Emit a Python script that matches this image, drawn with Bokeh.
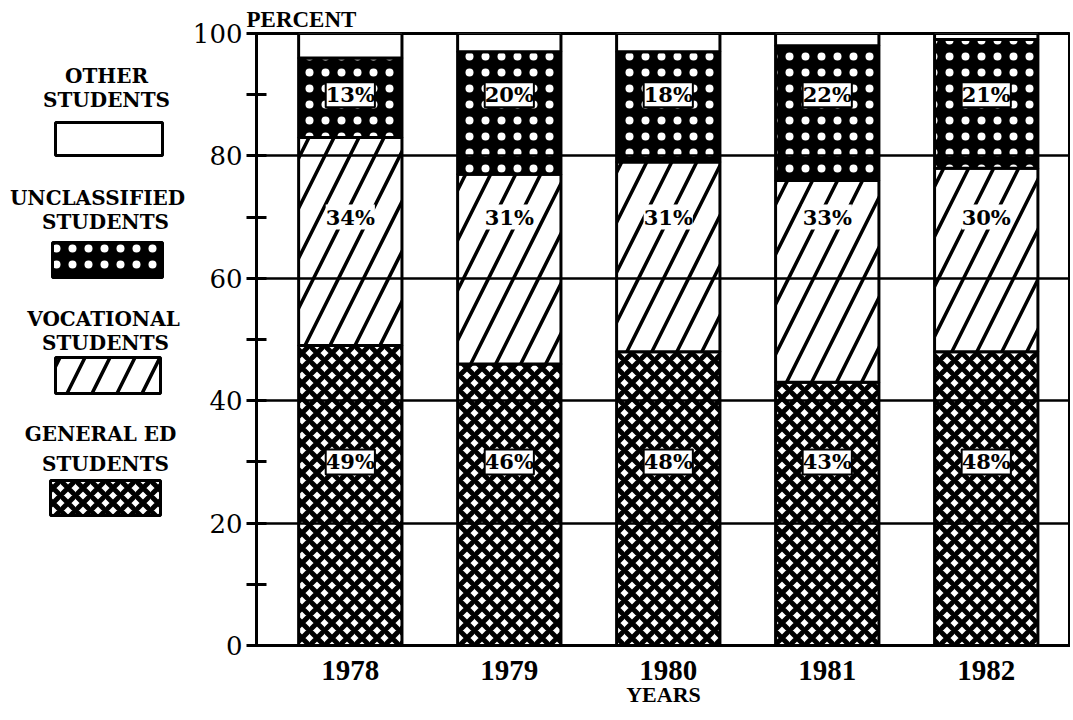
from bokeh.plotting import figure
from bokeh.models import ColumnDataSource, FixedTicker, LabelSet, Range1d
from bokeh.layouts import row
from bokeh.embed import file_html
from bokeh.resources import INLINE
from bokeh.core.properties import value

# ---- data ----
years = [1978, 1979, 1980, 1981, 1982]
general_ed = [49, 46, 48, 43, 48]
vocational = [34, 31, 31, 33, 30]
unclassified = [13, 20, 18, 22, 21]
other = [4, 3, 3, 2, 1]
y_ticks = [0, 20, 40, 60, 80, 100]
y_minor = [10, 30, 50, 70, 90]
legend_titles = ["OTHER", "UNCLASSIFIED", "VOCATIONAL", "GENERAL ED"]

SERIF = "DejaVu Serif"
NARROW = "Liberation Serif"

# styles per stack (bottom to top)
fills = ["white", "white", "black", "white"]
hatches = ["x", "/", ".", " "]
hatch_colors = ["black", "black", "white", "black"]
hatch_scales = [15, 50, 16, 10]
hatch_weights = [5, 3.5, 1, 1]

src = ColumnDataSource(dict(
    x=years, general=general_ed, vocational=vocational,
    unclassified=unclassified, other=other,
    g_lab=[f"{v}%" for v in general_ed],
    v_lab=[f"{v}%" for v in vocational],
    u_lab=[f"{v}%" for v in unclassified],
    gy=[30] * len(years), vy=[70] * len(years), uy=[90] * len(years),
))

p = figure(width=881, height=712, x_range=Range1d(1977.41, 1982.53),
           y_range=Range1d(0, 100), output_backend="svg",
           toolbar_location=None, min_border_left=64, min_border_right=0,
           min_border_top=33, min_border_bottom=67)

p.vbar_stack(["general", "vocational", "unclassified", "other"], x="x",
             width=0.65, source=src, fill_color=fills, hatch_pattern=hatches,
             hatch_color=hatch_colors, hatch_scale=hatch_scales,
             hatch_weight=hatch_weights, line_color="black", line_width=3)

common = dict(source=src, x="x", text_align="center", text_baseline="middle",
              text_font=value(SERIF), text_font_size="21px",
              text_font_style="bold", text_color="black")
p.add_layout(LabelSet(y="gy", text="g_lab", background_fill_color="white",
                      border_line_color="black", border_line_width=2, **common))
p.add_layout(LabelSet(y="vy", text="v_lab", background_fill_color="white", **common))
p.add_layout(LabelSet(y="uy", text="u_lab", background_fill_color="white",
                      border_line_color="black", border_line_width=2, **common))

p.xgrid.visible = False
p.ygrid.ticker = FixedTicker(ticks=[20, 40, 60, 80])
p.ygrid.grid_line_color = "black"
p.ygrid.grid_line_width = 2.5
p.ygrid.grid_line_alpha = 1
p.ygrid.level = "overlay"

p.outline_line_color = "black"
p.outline_line_width = 3
p.outline_line_alpha = 1

p.yaxis.ticker = FixedTicker(ticks=y_ticks, minor_ticks=y_minor)
p.yaxis.major_tick_in = 10
p.yaxis.major_tick_out = 10
p.yaxis.minor_tick_in = 10
p.yaxis.minor_tick_out = 10
p.yaxis.major_tick_line_width = 3
p.yaxis.minor_tick_line_width = 3
p.yaxis.major_label_text_font = SERIF
p.yaxis.major_label_text_font_size = "26px"
p.yaxis.major_label_text_color = "black"
p.yaxis.major_label_standoff = 4

p.xaxis.ticker = FixedTicker(ticks=years)
p.xaxis.major_tick_line_color = None
p.xaxis.minor_tick_line_color = None
p.xaxis.major_label_text_font = NARROW
p.xaxis.major_label_text_font_style = "bold"
p.xaxis.major_label_text_font_size = "29px"
p.xaxis.major_label_text_color = "black"
p.xaxis.major_label_standoff = 9
p.xaxis.axis_label = "YEARS"
p.xaxis.axis_label_text_font = NARROW
p.xaxis.axis_label_text_font_style = "bold"
p.xaxis.axis_label_text_font_size = "22px"
p.xaxis.axis_label_text_color = "black"
p.xaxis.axis_label_standoff = -1
for ax in (p.xaxis, p.yaxis):
    ax.axis_line_width = 3
    ax.axis_line_color = "black"

p.title.text = "PERCENT"
p.title.align = "left"
p.title.text_font = NARROW
p.title.text_font_style = "bold"
p.title.text_font_size = "23px"
p.title.text_color = "black"
p.title.standoff = 3
p.title.offset = -10

# ---- legend panel (coordinates in page pixels; frame aligned with main plot) ----
lf = figure(width=189, height=712, x_range=Range1d(0, 189),
            y_range=Range1d(645, 33), output_backend="svg",
            toolbar_location=None, min_border_left=0, min_border_right=0,
            min_border_top=0, min_border_bottom=0)
lf.axis.visible = False
lf.grid.visible = False
lf.outline_line_color = None

# legend order top to bottom: other, unclassified, vocational, general
order = [3, 2, 1, 0]
leg_src = ColumnDataSource(dict(
    left=[55, 52, 55, 50], right=[162, 162, 160, 160],
    top=[122, 242, 357, 480], bottom=[155, 277, 393, 515],
    fill=[fills[i] for i in order], hatch=[hatches[i] for i in order],
    hcol=[hatch_colors[i] for i in order],
    hscale=[hatch_scales[i] for i in order],
    hweight=[hatch_weights[i] for i in order],
))
lf.quad(left="left", right="right", top="top", bottom="bottom", source=leg_src,
        fill_color="fill", hatch_pattern="hatch", hatch_color="hcol",
        hatch_scale="hscale", hatch_weight="hweight",
        line_color="black", line_width=3)

txt_src = ColumnDataSource(dict(
    x=[106, 106, 97, 105, 103, 105, 100, 105],
    y=[75, 99, 197, 221, 318, 342, 433, 463],
    t=[legend_titles[0], "STUDENTS", legend_titles[1], "STUDENTS",
       legend_titles[2], "STUDENTS", legend_titles[3], "STUDENTS"],
))
lf.text(x="x", y="y", text="t", source=txt_src, text_align="center",
        text_baseline="middle", text_font=value(SERIF), text_font_style="bold",
        text_font_size="20px", text_color="black")

layout = row(lf, p)
open("out.html", "w").write(file_html(layout, INLINE))
